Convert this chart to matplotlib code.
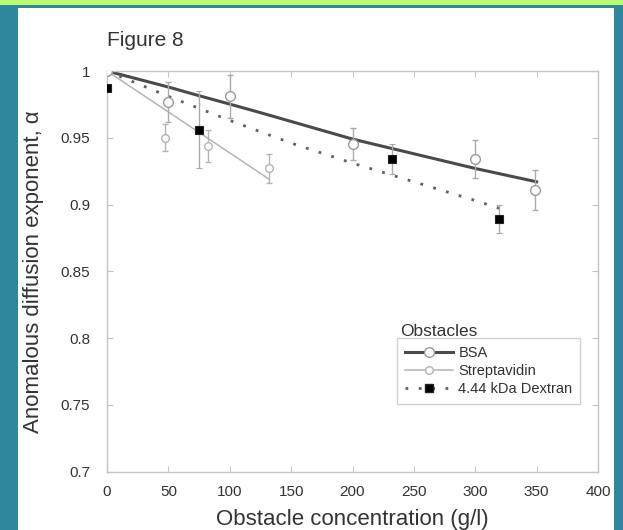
import matplotlib
matplotlib.use("Agg")
import matplotlib.pyplot as plt
from matplotlib.lines import Line2D
from matplotlib.patches import Rectangle

# --- Data --------------------------------------------------------------------
bsa_conc = [0, 50, 100, 200, 300, 349]
bsa_alpha = [1.0, 0.977, 0.981, 0.945, 0.934, 0.911]
bsa_err = [0, 0.015, 0.016, 0.012, 0.014, 0.015]

strep_conc = [0, 47, 82, 132]
strep_alpha = [1.0, 0.950, 0.944, 0.927]
strep_err = [0, 0.010, 0.012, 0.011]

dex_conc = [0, 75, 232, 319]
dex_alpha = [0.987, 0.956, 0.934, 0.889]
dex_err = [0, 0.029, 0.011, 0.0105]

# fitted curves
bsa_fit_x = [0, 25, 50, 75, 100, 125, 150, 175, 200, 250, 300, 350]
bsa_fit_y = [1.0, 0.994, 0.988, 0.9815, 0.9752, 0.9688, 0.9622, 0.9556, 0.949,
             0.938, 0.927, 0.917]
strep_fit_x = [0, 132]
strep_fit_y = [1.0, 0.919]
dex_fit_x = [0, 50, 100, 150, 200, 250, 300, 320]
dex_fit_y = [1.0, 0.981, 0.963, 0.946, 0.931, 0.917, 0.903, 0.897]

x_ticks = [0, 50, 100, 150, 200, 250, 300, 350, 400]
y_ticks = [0.7, 0.75, 0.8, 0.85, 0.9, 0.95, 1.0]
y_tick_labels = ["0.7", "0.75", "0.8", "0.85", "0.9", "0.95", "1"]
legend_labels = ["BSA", "Streptavidin", "4.44 kDa Dextran"]

# --- Style --------------------------------------------------------------------
W, H = 623, 530
TEAL = "#2e879c"
GREEN = "#bafa6e"
FRAME = "#c4c4c4"
TXT = "#333333"
BSA_C = "#4a4a4a"
STREP_C = "#b4b4b4"
DEX_C = "#606060"

plt.rcParams["font.family"] = ["Liberation Sans", "DejaVu Sans"]


def main():
    fig = plt.figure(figsize=(W / 100, H / 100), dpi=100, facecolor=TEAL)
    fig.patches.append(Rectangle((0, 1 - 5 / H), 1, 5 / H, transform=fig.transFigure,
                                 facecolor=GREEN, edgecolor="none", zorder=-2))
    fig.patches.append(Rectangle((18 / W, 0), (614 - 18) / W, 1 - 8 / H,
                                 transform=fig.transFigure, facecolor="white",
                                 edgecolor="none", zorder=-2))

    ax = fig.add_axes([107 / W, (H - 471.5) / H, (598 - 107) / W, (471.5 - 71) / H])

    # fit curves
    ax.plot(bsa_fit_x, bsa_fit_y, color=BSA_C, lw=2.2, zorder=2)
    ax.plot(strep_fit_x, strep_fit_y, color=STREP_C, lw=1.1, zorder=2)
    ax.plot(dex_fit_x, dex_fit_y, color=DEX_C, lw=2.0, ls=(0, (1.0, 3.8)), zorder=2)

    # data points
    ax.errorbar(strep_conc, strep_alpha, yerr=strep_err, fmt="o", ms=5.5,
                mfc="white", mec=STREP_C, mew=1.0, ecolor=STREP_C, elinewidth=1.0,
                capsize=2, zorder=3)
    ax.errorbar(bsa_conc, bsa_alpha, yerr=bsa_err, fmt="o", ms=7,
                mfc="white", mec="#9a9a9a", mew=1.0, ecolor="#aaaaaa", elinewidth=1.0,
                capsize=2, zorder=4)
    ax.errorbar(dex_conc, dex_alpha, yerr=dex_err, fmt="s", ms=6,
                mfc="black", mec="#222222", mew=0.8, ecolor="#aaaaaa", elinewidth=1.0,
                capsize=2, zorder=5)

    ax.set_xlim(0, 400)
    ax.set_ylim(0.7, 1.0)
    ax.set_xticks(x_ticks)
    ax.set_yticks(y_ticks)
    ax.set_yticklabels(y_tick_labels)
    ax.tick_params(direction="in", length=4, width=0.8, color=FRAME, labelcolor=TXT,
                   labelsize=11, top=True, right=True)
    ax.tick_params(axis="x", pad=10)
    ax.tick_params(axis="y", pad=12)
    for s in ax.spines.values():
        s.set_color(FRAME)
        s.set_linewidth(1.0)

    ax.set_xlabel("Obstacle concentration (g/l)", fontsize=16, color=TXT, labelpad=7)
    ax.set_ylabel("Anomalous diffusion exponent, \u03b1", fontsize=16, color=TXT, labelpad=12)

    fig.text(107 / W, 1 - 41 / H, "Figure 8", fontsize=15, color=TXT, va="center")

    handles = [
        Line2D([], [], color=BSA_C, lw=2.2, marker="o", ms=7, mfc="white", mec="#9a9a9a"),
        Line2D([], [], color=STREP_C, lw=1.1, marker="o", ms=5.5, mfc="white", mec=STREP_C),
        Line2D([], [], color=DEX_C, lw=2.0, ls=(0, (1.0, 3.8)), marker="s", ms=6,
               mfc="black", mec="#222222"),
    ]
    leg = ax.legend(handles, legend_labels, loc="upper left",
                    bbox_to_anchor=(397 / W, 1 - 338 / H), bbox_transform=fig.transFigure,
                    borderaxespad=0, fontsize=10.5, handlelength=3.3, handletextpad=0.35,
                    labelspacing=0.28, borderpad=0.55, numpoints=1,
                    fancybox=False, framealpha=1, edgecolor="#d0d0d0")
    leg.get_frame().set_linewidth(1.0)
    for t in leg.get_texts():
        t.set_color(TXT)
    fig.text(400 / W, 1 - 331 / H, "Obstacles", fontsize=12.5, color=TXT, va="center")

    fig.savefig("out.png", dpi=100, facecolor=TEAL)


if __name__ == "__main__":
    main()
